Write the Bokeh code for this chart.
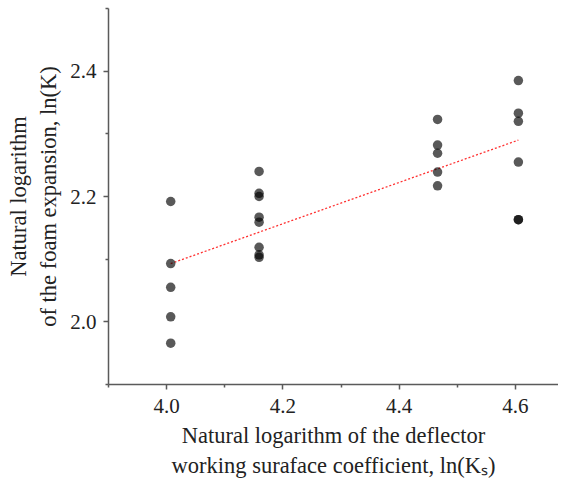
from bokeh.plotting import figure
from bokeh.models import FixedTicker, Range1d
from bokeh.embed import file_html
from bokeh.resources import INLINE

# ---- data ----
ln_ks = [4.007, 4.007, 4.007, 4.007, 4.007,
         4.159, 4.159, 4.159, 4.159, 4.159, 4.159, 4.159, 4.159,
         4.466, 4.466, 4.466, 4.466, 4.466,
         4.605, 4.605, 4.605, 4.605, 4.605, 4.605]
ln_k = [2.192, 2.093, 2.055, 2.008, 1.966,
        2.240, 2.205, 2.200, 2.167, 2.159, 2.119, 2.107, 2.103,
        2.323, 2.282, 2.269, 2.239, 2.217,
        2.385, 2.333, 2.320, 2.255, 2.163, 2.163]
fit_x = [4.007, 4.605]
fit_y = [2.093, 2.290]

x_ticks = [4.0, 4.2, 4.4, 4.6]
x_tick_labels = ["4.0", "4.2", "4.4", "4.6"]
x_minor = [3.9, 4.1, 4.3, 4.5]
y_ticks = [2.0, 2.2, 2.4]
y_tick_labels = ["2.0", "2.2", "2.4"]
y_minor = [1.9, 2.1, 2.3, 2.5]

x_label = "Natural logarithm of the deflector\nworking suraface coefficient, ln(K\u209b)"
y_label = "Natural logarithm\nof the foam expansion, ln(K)"

FONT = "Liberation Serif"

p = figure(width=558, height=481, output_backend="svg", toolbar_location=None,
           x_range=Range1d(3.9, 4.674), y_range=Range1d(1.9, 2.5),
           min_border_left=108, min_border_right=0, min_border_top=8,
           min_border_bottom=97)
p.outline_line_color = None
p.xgrid.visible = False
p.ygrid.visible = False
p.background_fill_color = "white"
p.border_fill_color = "white"

p.line(fit_x, fit_y, line_color="#ff3030", line_width=1.3, line_dash="2 2")
p.scatter(ln_ks, ln_k, size=9.5, fill_color="black", fill_alpha=0.65,
          line_color=None)

for ax, ticks, minor, labels in ((p.xaxis[0], x_ticks, x_minor, x_tick_labels),
                                 (p.yaxis[0], y_ticks, y_minor, y_tick_labels)):
    ax.ticker = FixedTicker(ticks=ticks, minor_ticks=minor)
    ax.major_label_overrides = {t: l for t, l in zip(ticks, labels)}
    ax.axis_line_color = "#5a5a5a"
    ax.axis_line_width = 1.5
    ax.major_tick_line_color = "#5a5a5a"
    ax.minor_tick_line_color = "#5a5a5a"
    ax.major_tick_line_width = 1.5
    ax.minor_tick_line_width = 1.5
    ax.major_tick_in = 0
    ax.major_tick_out = 5
    ax.minor_tick_in = 0
    ax.minor_tick_out = 3
    ax.major_label_text_font = FONT
    ax.major_label_text_font_size = "21px"
    ax.major_label_text_color = "#222222"
    ax.axis_label_text_font = FONT
    ax.axis_label_text_font_size = "22.5px"
    ax.axis_label_text_font_style = "normal"
    ax.axis_label_text_color = "#222222"

p.xaxis[0].axis_label = x_label
p.xaxis[0].major_label_standoff = 9
p.xaxis[0].axis_label_standoff = 7
p.yaxis[0].axis_label = y_label
p.yaxis[0].major_label_standoff = 7
p.yaxis[0].axis_label_standoff = 6

open("out.html", "w").write(file_html(p, INLINE))
